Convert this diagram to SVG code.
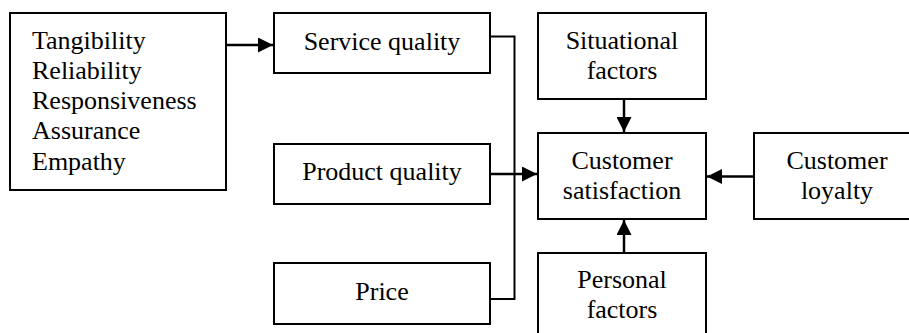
<svg xmlns="http://www.w3.org/2000/svg" width="909" height="333" viewBox="0 0 909 333">
<defs>
<style>
.box{fill:#fff;stroke:#000;stroke-width:2}
.t{font-family:'Liberation Serif','Times New Roman','DejaVu Serif',serif;font-size:26px;fill:#000}
.c{text-anchor:middle}
.ln{fill:none;stroke:#000;stroke-width:2.5}
</style>
<marker id="ah" markerWidth="15" markerHeight="15" refX="15" refY="7.5" orient="auto" markerUnits="userSpaceOnUse">
<path d="M0,0 L15,7.5 L0,15 Z" fill="#000"/>
</marker>
</defs>
<rect width="909" height="333" fill="#fff"/>
<g id="dimensions">
<rect class="box" x="10" y="13" width="216" height="177"/>
<text class="t" x="32" y="48.5">Tangibility</text>
<text class="t" x="32" y="79">Reliability</text>
<text class="t" x="32" y="109">Responsiveness</text>
<text class="t" x="32" y="139">Assurance</text>
<text class="t" x="32" y="169.5">Empathy</text>
</g>
<g id="service-quality">
<rect class="box" x="274" y="13" width="216" height="60"/>
<text class="t c" x="382" y="50">Service quality</text>
</g>
<g id="product-quality">
<rect class="box" x="274" y="144" width="216" height="60"/>
<text class="t c" x="382" y="180">Product quality</text>
</g>
<g id="price">
<rect class="box" x="274" y="263" width="216" height="61"/>
<text class="t c" x="382" y="299.5">Price</text>
</g>
<g id="situational-factors">
<rect class="box" x="538" y="13" width="168" height="86"/>
<text class="t c" x="622" y="48.5">Situational</text>
<text class="t c" x="622" y="78.5">factors</text>
</g>
<g id="customer-satisfaction">
<rect class="box" x="538" y="133" width="168" height="86"/>
<text class="t c" x="622" y="168.5">Customer</text>
<text class="t c" x="622" y="198.5">satisfaction</text>
</g>
<g id="customer-loyalty">
<rect class="box" x="754" y="133" width="168" height="86"/>
<text class="t c" x="837" y="168.5">Customer</text>
<text class="t c" x="837" y="198.5">loyalty</text>
</g>
<g id="personal-factors">
<rect class="box" x="538" y="253" width="168" height="90"/>
<text class="t c" x="622" y="288">Personal</text>
<text class="t c" x="622" y="318">factors</text>
</g>
<g id="connectors">
<line class="ln" x1="226" y1="45" x2="273" y2="45" marker-end="url(#ah)"/>
<polyline class="ln" points="490,36.5 514.5,36.5 514.5,299 490,299" style="stroke-width:2"/>
<line class="ln" x1="490" y1="174" x2="537" y2="174" marker-end="url(#ah)"/>
<line class="ln" x1="624" y1="99" x2="624" y2="132" marker-end="url(#ah)"/>
<line class="ln" x1="754" y1="176.5" x2="707" y2="176.5" marker-end="url(#ah)"/>
<line class="ln" x1="624" y1="253" x2="624" y2="220" marker-end="url(#ah)"/>
</g>
</svg>
